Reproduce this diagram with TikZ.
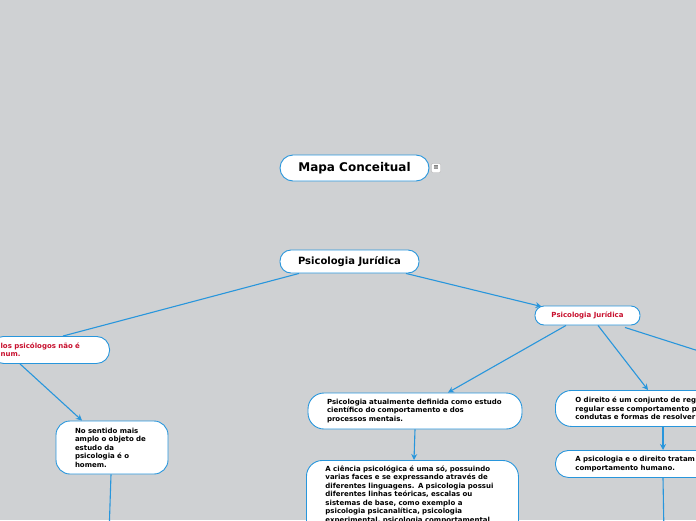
\documentclass[tikz,border=0pt]{standalone}
\usepackage{fontspec}
\setmainfont{DejaVu Sans}
\usetikzlibrary{arrows.meta,calc}
\definecolor{bg}{RGB}{207,209,211}
\definecolor{bl}{RGB}{40,150,220}
\definecolor{rd}{RGB}{200,16,46}
\tikzset{
  box/.style={draw=bl, line width=0.9pt, fill=white, rounded corners=11pt, align=left,
    font=\fontsize{7}{8.5}\selectfont\bfseries, inner ysep=0pt},
  conn/.style={draw=bl, line width=1.1pt},
  arr/.style={conn, -{Stealth[length=6pt,width=6pt]}},
}
\begin{document}
\begin{tikzpicture}[x=1pt,y=-1pt]
\fill[bg] (0,0) rectangle (696,520);
\useasboundingbox (0,0) rectangle (696,520);

\node[box, align=center, font=\fontsize{12}{14}\selectfont\bfseries, minimum width=149pt, minimum height=26pt, rounded corners=13pt] (mapa) at (354.5,168) {Mapa Conceitual};
\node[draw=black!30, fill=white, rounded corners=1pt, inner sep=0.5pt, font=\fontsize{6.5}{6.5}\selectfont, minimum size=9pt] (icon) at (436,168) {≡};

\node[box, align=center, font=\fontsize{10}{12}\selectfont\bfseries, minimum width=139pt, minimum height=23pt] (pj) at (349.5,261.5) {Psicologia Jurídica};

\node[box, text=rd, anchor=north east, text width=99pt, inner xsep=10pt, minimum height=27pt, rounded corners=13pt] (l) at (110,336) {los psicólogos não é\\num.};

\node[box, text=black, text width=74pt, inner xsep=19pt, minimum height=53pt, rounded corners=14pt] (sent) at (112,447.5) {No sentido mais\\amplo o objeto de\\estudo da\\psicologia é o\\homem.};

\node[box, align=center, text=rd, minimum width=105pt, minimum height=19pt, rounded corners=9pt] (pjr) at (587.5,315.5) {Psicologia Jurídica};

\node[box, text width=182pt, inner xsep=16pt, minimum height=36pt, rounded corners=16pt] (def) at (415,411) {\hspace*{3pt}Psicologia atualmente definida como estudo\\\hspace*{3pt}científico do comportamento e dos\\\hspace*{3pt}processos mentais.};

\node[box, anchor=north west, text width=180pt, inner xsep=16pt, inner ysep=5pt, rounded corners=16pt] (cien) at (306,460) {\hspace*{3pt}A ciência psicológica é uma só, possuindo\\\hspace*{3pt}varias faces e se expressando através de\\\hspace*{3pt}diferentes linguagens. A psicologia possui\\\hspace*{3pt}diferentes linhas teóricas, escalas ou\\\hspace*{3pt}sistemas de base, como exemplo a\\\hspace*{3pt}psicologia psicanalítica, psicologia\\\hspace*{3pt}experimental, psicologia comportamental\\\mbox{}\\\mbox{}};

\node[box, anchor=north west, text width=160pt, inner xsep=20pt, minimum height=36pt, rounded corners=16pt] (dir) at (555,390) {O direito é um conjunto de regras\\regular esse comportamento para\\condutas e formas de resolver};

\node[box, anchor=north west, text width=160pt, inner xsep=20pt, minimum height=27pt, rounded corners=13pt] (apsi) at (555,450) {A psicologia e o direito tratam do\\comportamento humano.};

\coordinate (off1) at (109,535);
\coordinate (off2) at (730,361);
\coordinate (off3) at (664,535);

\draw[conn] ([xshift=-50.5pt]pj.south) -- ([xshift=-47pt]l.north east);
\draw[arr] ([xshift=56.5pt]pj.south) -- ([xshift=-46pt,yshift=-1pt]pjr.north);
\draw[arr] ([xshift=-90pt]l.south east) -- ([xshift=-30pt]sent.north);
\draw[conn] ([xshift=-1pt]sent.south) -- (off1);
\draw[arr] ([xshift=-21.5pt]pjr.south) -- ([xshift=33pt]def.north);
\draw[arr] ([xshift=10.5pt]pjr.south) -- ([xshift=93pt]dir.north west);
\draw[conn] ([xshift=37.5pt,yshift=-2pt]pjr.south) -- (off2);
\draw[arr] (def.south) -- ([xshift=108pt]cien.north west);
\draw[arr] ([xshift=108pt]dir.south west) -- ([xshift=108pt]apsi.north west);
\draw[conn] ([xshift=108pt]apsi.south west) -- (off3);
\end{tikzpicture}
\end{document}
